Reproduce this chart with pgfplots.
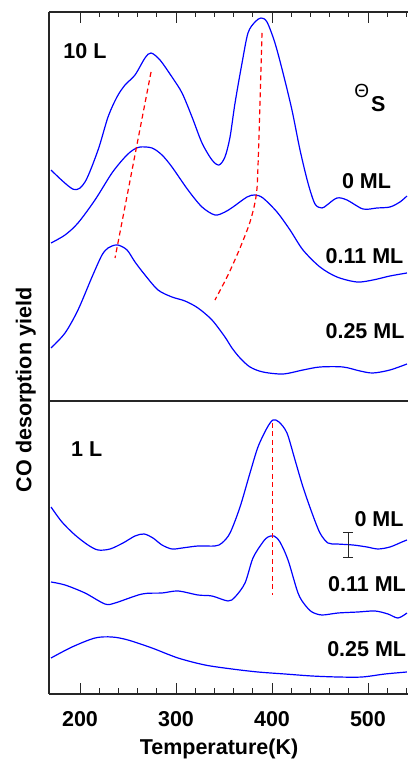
\documentclass[border=0pt]{standalone}
\usepackage{fontspec}
\setmainfont{Liberation Sans}
\usepackage{pgfplots}
\pgfplotsset{compat=1.18}
\newcommand{\lbl}{\fontsize{21.5}{25}\selectfont\bfseries}
\begin{document}
\begin{tikzpicture}[x=1pt,y=1pt]
\useasboundingbox (0,0) rectangle (408,759);
\pgfplotsset{
  panel/.style={
    scale only axis, anchor=south west,
    width=359pt,
    xmin=167.7, xmax=541.7,
    axis x line*=box, axis y line*=left,
    axis line style={black!85, line width=1.1pt},
    ytick=\empty,
    xtick={200,300,400,500},
    minor xtick={220,240,260,280,320,340,360,380,420,440,460,480,520,540},
    tick align=inside,
    major tick length=11pt, minor tick length=5.5pt,
    every tick/.style={black!85, line width=0.9pt},
    clip=false,
  },
  curve/.style={blue, line width=1.2pt, smooth, tension=0.5, mark=none},
  guide/.style={red, line width=1.2pt, dash pattern=on 5pt off 3.5pt, mark=none},
}
% ---------------- top panel (10 L) ----------------
\begin{axis}[panel, at={(49pt,358pt)}, height=389pt,
  ymin=358, ymax=747, xtick pos=right, xticklabels=\empty]
% 0 ML
\addplot[curve] coordinates {
(169.8,589) (193.0,569.7) (205.2,577) (218.8,609) (229.2,642) (238.5,662)
(246.9,674) (257.3,684) (267.7,701) (274.0,706) (283.3,699) (295.8,682)
(306.3,666) (316.7,642) (327.1,616) (337.5,599) (344.8,594) (351.0,602)
(356.3,622) (361.5,656) (368.8,696) (375.0,726) (382.3,737) (388.5,741)
(394.8,737) (403.1,716) (411.5,686) (420.8,649) (429.2,609) (437.5,576)
(444.8,555) (452.1,551) (457.3,554) (467.7,561) (478.1,559) (494.8,550)
(509.4,551) (522.9,552) (533.3,557) (540.6,563)};
% 0.11 ML
\addplot[curve] coordinates {
(169.8,516) (184.4,524) (197.9,536) (215.6,559) (233.3,586) (246.9,602)
(255.2,609) (262.5,612) (275.0,611) (285.4,604) (295.8,592) (312.5,569)
(327.1,552) (340.6,544) (351.0,547) (359.4,552) (374.0,562) (382.3,564)
(390.6,561) (405.2,547) (418.8,529) (432.3,509) (450.0,492) (467.7,482)
(488.5,477) (505.2,479) (522.9,483) (540.6,486)};
% 0.25 ML
\addplot[curve] coordinates {
(169.8,411) (184.4,426) (197.9,449) (212.5,482) (222.9,504) (229.2,511)
(233.3,513) (239.6,514) (249.0,509) (257.3,497) (267.7,484) (281.3,469)
(295.8,462) (309.4,458) (322.9,451) (337.5,439) (351.0,422) (358.3,411)
(366.7,401) (377.1,392) (390.6,387) (411.5,385) (432.3,389) (450.0,392)
(474.0,392) (491.7,388) (505.2,386) (522.9,389) (540.6,395)};
% guide lines
\addplot[guide] coordinates {(274.0,687) (236.5,501)};
\addplot[guide, smooth] coordinates {(389.6,726) (385.4,592) (383.3,562)
(377.1,537) (366.7,511) (354.2,484) (340.6,459)};
\end{axis}
% ---------------- bottom panel (1 L) ----------------
\begin{axis}[panel, at={(49pt,65pt)}, height=293pt,
  ymin=65, ymax=358, xtick pos=left,
  /pgf/number format/assume math mode=true,
  xticklabel style={font=\lbl, anchor=north, inner sep=0pt, yshift=-17.5pt}]
% 0 ML
\addplot[curve] coordinates {
(169.8,252) (181.2,237) (194.8,224) (208.3,214) (218.8,209) (231.3,210)
(244.8,216) (257.3,223) (266.7,225) (276.0,221) (285.4,214) (295.8,210)
(306.3,211) (322.9,213) (340.6,213) (347.9,216) (356.3,226) (366.7,252)
(377.1,286) (385.4,312) (394.8,331) (401.0,339) (407.3,337) (415.6,326)
(424.0,299) (432.3,272) (441.7,246) (450.0,226) (458.3,216) (467.7,215)
(484.4,214) (499.0,212) (510.4,210) (522.9,212) (535.4,217) (540.6,219)};
% 0.11 ML
\addplot[curve] coordinates {
(169.8,177) (184.4,174) (205.2,166) (226.0,155) (236.5,156) (264.6,165)
(285.4,166) (302.1,168) (322.9,164) (337.5,163) (354.2,158) (361.5,162)
(371.9,176) (380.2,201) (390.6,217) (395.8,222) (402.1,223) (408.3,217)
(416.7,199) (427.1,166) (434.4,154) (441.7,147) (452.1,144) (468.8,146)
(489.6,147) (507.3,148) (520.8,145) (531.3,141) (540.6,146)};
% 0.25 ML
\addplot[curve] coordinates {
(169.8,101) (191.7,112) (215.6,121) (233.3,122) (250.0,119) (275.0,111)
(302.1,101) (330.2,94) (358.3,90) (385.4,87) (413.5,85) (441.7,83)
(468.8,82) (493.8,82) (517.7,85) (540.6,87)};
\addplot[guide, line width=1.1pt] coordinates {(401.0,336) (401.0,164)};
% error bar
\addplot[draw=none, mark=none, forget plot,
  error bars/.cd, y dir=both, y explicit, error mark=-,
  error bar style={black!85, line width=0.9pt},
  error mark options={black!85, line width=0.9pt, mark size=5pt, rotate=90}]
  coordinates {(479.2,214.5) +- (0,12.5)};
\end{axis}
% ---------------- text ----------------
\node[anchor=base, font=\lbl, inner sep=0pt] at (85,700) {10 L};
\node[anchor=base, font=\lbl, inner sep=0pt] at (366.5,570.5) {0 ML};
\node[anchor=base, font=\lbl, inner sep=0pt] at (364.5,495) {0.11 ML};
\node[anchor=base, font=\lbl, inner sep=0pt] at (365,420.3) {0.25 ML};
\node[anchor=base, font=\lbl, inner sep=0pt] at (86.7,302) {1 L};
\node[anchor=base, font=\lbl, inner sep=0pt] at (379,232.2) {0 ML};
\node[anchor=base, font=\lbl, inner sep=0pt] at (367,167.4) {0.11 ML};
\node[anchor=base, font=\lbl, inner sep=0pt] at (366.7,102.4) {0.25 ML};
\node[anchor=base, font=\fontsize{19}{22}\selectfont, inner sep=0pt] at (361.7,661.7) {Θ};
\node[anchor=base, font=\lbl, inner sep=0pt] at (378.3,647.3) {S};
\node[anchor=base, font=\lbl, inner sep=0pt] at (219,5) {Temperature(K)};
\node[anchor=base, font=\lbl, inner sep=0pt, rotate=90] at (31.5,369) {CO desorption yield};
\end{tikzpicture}
\end{document}
